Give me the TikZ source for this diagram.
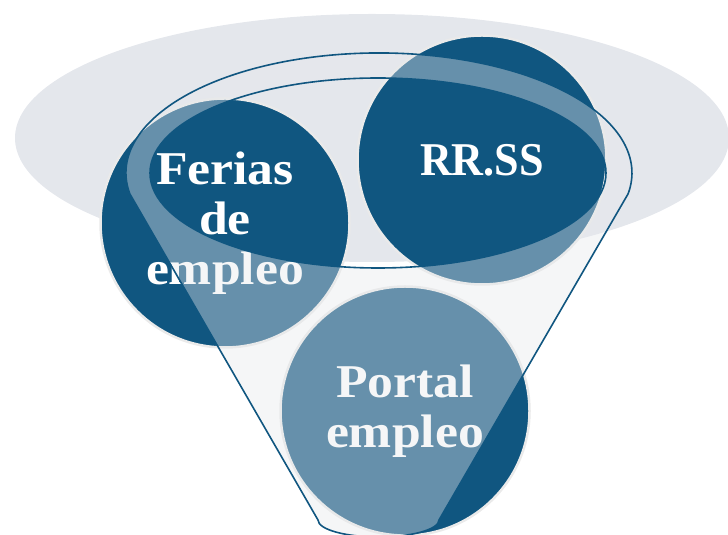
\documentclass[tikz,border=0pt]{standalone}
\usepackage{fontspec}
\setmainfont{Liberation Serif}
\newfontfamily\widebold[FakeStretch=1.1]{Liberation Serif}
\newfontfamily\narrowbold[FakeStretch=0.94]{Liberation Serif}

\definecolor{deepblue}{RGB}{16,86,128}
\definecolor{bgmist}{RGB}{228,231,236}
\definecolor{rimgray}{RGB}{231,233,236}
\definecolor{ringgray}{RGB}{234,234,234}

\tikzset{
  bubble/.style={circle, fill=deepblue, draw=ringgray, line width=2.5pt,
    minimum size=249pt, inner sep=0pt, text=white, align=center,
    font=\widebold\fontsize{47}{50}\selectfont\bfseries},
  funnel/.style={draw=deepblue, line width=1.6pt, fill=rimgray,
    fill opacity=0.4, even odd rule}
}

\begin{document}
\begin{tikzpicture}[x=1pt,y=1pt]
    \useasboundingbox (0,0) rectangle (728,535);

    % Background ellipse
    \fill[bgmist] (372,397) ellipse (357 and 124);

    % Channels
    \node[bubble] (ferias) at (225,312) {Ferias\\de\\empleo};
    \node[bubble, font=\narrowbold\fontsize{47}{50}\selectfont\bfseries] (rrss) at (482,375) {RR.SS};
    \node[bubble] (portal) at (405,124) {Portal\\empleo};

    % Funnel body with its opening
    \draw[funnel] (129.8,341.2)
        arc[start angle=190, end angle=-10, x radius=253, y radius=120]
        -- (439,15)
        arc[start angle=0, end angle=-180, x radius=60.5, y radius=17]
        -- cycle
        (378,362) ellipse (228 and 95);
\end{tikzpicture}
\end{document}
